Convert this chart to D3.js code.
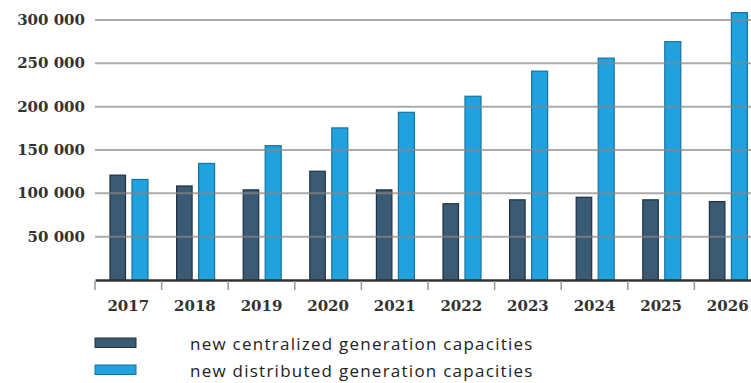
<!DOCTYPE html>
<html>
<head>
<meta charset="utf-8">
<script src="https://cdn.jsdelivr.net/npm/d3@7"></script>
<style>
  body { margin: 0; background: #fff; }
  svg { display: block; }
</style>
</head>
<body>
<svg id="chart" width="751" height="383"></svg>
<script>
// years on the x axis
const years = ["2017", "2018", "2019", "2020", "2021", "2022", "2023", "2024", "2025", "2026"];
// new centralized generation capacities
const centralized = [121000, 108500, 104000, 125500, 104000, 88000, 92500, 95500, 92500, 90500];
// new distributed generation capacities
const distributed = [116000, 134500, 155000, 175500, 193500, 212000, 241000, 256000, 275000, 308500];
const yTicks = [50000, 100000, 150000, 200000, 250000, 300000];
const seriesNames = ["new centralized generation capacities", "new distributed generation capacities"];

const darkFill = "#3b5a74", darkStroke = "#1f3040";
const lightFill = "#1fa2dd", lightStroke = "#17739f";

const svg = d3.select("#chart");

// x runs past the right edge, like the source picture
const x = d3.scaleBand().domain(years).range([95, 761]);
const y = d3.scaleLinear().domain([0, 300000]).range([280, 20]);

const fmt = v => d3.format(",")(v).replace(/,/g, " ");

// y labels
svg.append("g")
  .selectAll("text")
  .data(yTicks)
  .enter()
  .append("text")
  .attr("x", 85)
  .attr("y", d => y(d) + 5)
  .attr("text-anchor", "end")
  .attr("font-family", "DejaVu Serif")
  .attr("font-size", 15)
  .attr("font-weight", "bold")
  .attr("fill", "#333")
  .text(fmt);

// bars
const bw = 15.5;
const groups = svg.append("g")
  .selectAll("g")
  .data(years)
  .enter()
  .append("g");

groups.append("rect")
  .attr("x", d => x(d) + 15)
  .attr("y", (d, i) => y(centralized[i]))
  .attr("width", bw)
  .attr("height", (d, i) => y(0) - y(centralized[i]))
  .attr("fill", darkFill)
  .attr("stroke", darkStroke)
  .attr("stroke-width", 1.2);

groups.append("rect")
  .attr("x", d => x(d) + 37)
  .attr("y", (d, i) => y(distributed[i]))
  .attr("width", bw + 0.5)
  .attr("height", (d, i) => y(0) - y(distributed[i]))
  .attr("fill", lightFill)
  .attr("stroke", lightStroke)
  .attr("stroke-width", 1.2);

// gridlines drawn over the bars
svg.append("g")
  .selectAll("line")
  .data(yTicks)
  .enter()
  .append("line")
  .attr("x1", 95)
  .attr("x2", 751)
  .attr("y1", d => y(d))
  .attr("y2", d => y(d))
  .attr("stroke", "#888")
  .attr("stroke-opacity", 0.7)
  .attr("stroke-width", 2);

// x axis
const xAxis = svg.append("g")
  .attr("transform", "translate(0,280)")
  .call(d3.axisBottom(x).tickSize(0).tickPadding(20));
xAxis.select(".domain").attr("stroke", "#333").attr("stroke-width", 2.5);
xAxis.selectAll("text")
  .attr("font-family", "DejaVu Serif")
  .attr("font-size", 15)
  .attr("font-weight", "bold")
  .attr("fill", "#333");

// tick marks on band boundaries
svg.append("g")
  .selectAll("line")
  .data(years)
  .enter()
  .append("line")
  .attr("x1", d => x(d))
  .attr("x2", d => x(d))
  .attr("y1", 281)
  .attr("y2", 290)
  .attr("stroke", "#999")
  .attr("stroke-width", 1.5);

// legend
const legend = svg.append("g")
  .selectAll("g")
  .data(seriesNames)
  .enter()
  .append("g")
  .attr("transform", (d, i) => `translate(95,${338 + i * 27})`);

legend.append("rect")
  .attr("width", 41)
  .attr("height", 9.5)
  .attr("fill", (d, i) => i ? lightFill : darkFill)
  .attr("stroke", (d, i) => i ? lightStroke : darkStroke);

legend.append("text")
  .attr("x", 95)
  .attr("y", 12)
  .attr("font-family", "Open Sans")
  .attr("font-size", 17)
  .attr("letter-spacing", 1.25)
  .attr("fill", "#222")
  .text(d => d);
</script>
</body>
</html>
